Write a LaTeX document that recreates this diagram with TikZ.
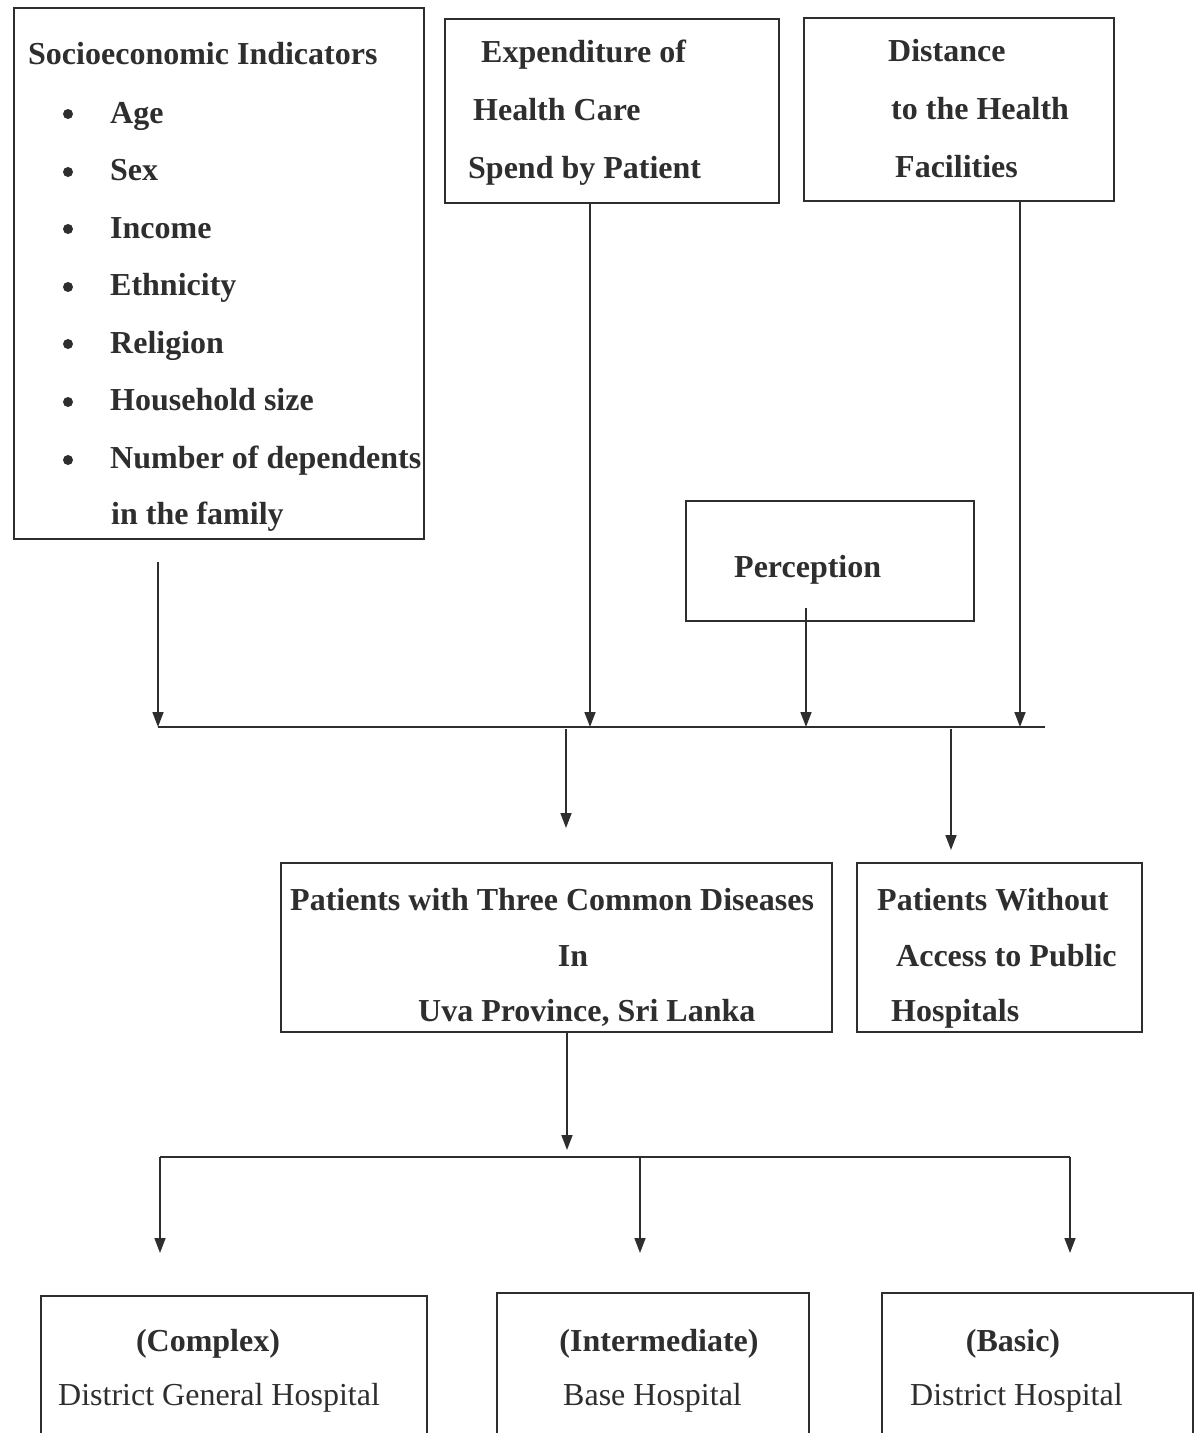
\documentclass[tikz,border=0pt]{standalone}
\usepackage{fontspec}
\setmainfont{Liberation Serif}
\usetikzlibrary{arrows.meta}
\definecolor{ink}{HTML}{2E2E2E}
\begin{document}
\begin{tikzpicture}[x=1pt,y=-1pt,
  box/.style={draw=ink, line width=1.6pt, rectangle, inner sep=0pt, anchor=north west},
  lab/.style={inner sep=0pt, anchor=base west, text=ink, font=\fontsize{32}{38}\selectfont\bfseries},
  labc/.style={lab, anchor=base},
  reg/.style={lab, font=\fontsize{32}{38}\selectfont},
  bul/.style={circle, fill=ink, inner sep=0pt, minimum size=10pt},
  conn/.style={draw=ink, line width=1.6pt},
  arr/.style={conn, -{Triangle[length=15pt,width=11pt]}}]
\useasboundingbox (0,0) rectangle (1200,1433);
\clip (0,0) rectangle (1200,1433);
% boxes
\node[box, minimum width=410pt, minimum height=531pt] (socio) at (13,7) {};
\node[box, minimum width=334pt, minimum height=184pt] (exp) at (444,18) {};
\node[box, minimum width=310pt, minimum height=183pt] (dist) at (803,17) {};
\node[box, minimum width=288pt, minimum height=120pt] (perc) at (685,500) {};
\node[box, minimum width=551pt, minimum height=169pt] (pat) at (280,862) {};
\node[box, minimum width=285pt, minimum height=169pt] (without) at (856,862) {};
\node[box, minimum width=386pt, minimum height=170pt] (cx) at (40,1295) {};
\node[box, minimum width=312pt, minimum height=173pt] (im) at (496,1292) {};
\node[box, minimum width=311pt, minimum height=173pt] (bs) at (881,1292) {};
% socio text
\node[lab] (s0) at (28,64) {Socioeconomic Indicators};
\node[bul] (u1) at (68,114) {};
\node[lab] (s1t) at (110,123) {Age};
\node[bul] (u2) at (68,172) {};
\node[lab] (s2t) at (110,180) {Sex};
\node[bul] (u3) at (68,229) {};
\node[lab] (s3t) at (110,238) {Income};
\node[bul] (u4) at (68,287) {};
\node[lab] (s4t) at (110,295) {Ethnicity};
\node[bul] (u5) at (68,344) {};
\node[lab] (s5t) at (110,353) {Religion};
\node[bul] (u6) at (68,402) {};
\node[lab] (s6t) at (110,410) {Household size};
\node[bul] (u7) at (68,460) {};
\node[lab] (s7t) at (110,468) {Number of dependents};
\node[lab] (s8t) at (111,524) {in the family};
% expenditure
\node[lab] (e1t) at (481,62) {Expenditure of};
\node[lab] (e2t) at (473,120) {Health Care};
\node[lab] (e3t) at (468,178) {Spend by Patient};
% distance
\node[lab] (d1t) at (888,61) {Distance};
\node[lab] (d2t) at (891,119) {to the Health};
\node[lab] (d3t) at (895,177) {Facilities};
% perception
\node[lab] (p1t) at (734,577) {Perception};
% patients
\node[lab] (q1t) at (290,910) {Patients with Three Common Diseases};
\node[labc] (q2t) at (573,966) {In};
\node[lab] (q3t) at (418,1021) {Uva Province, Sri Lanka};
\node[lab] (w1t) at (877,910) {Patients Without};
\node[lab] (w2t) at (896,966) {Access to Public};
\node[lab] (w3t) at (891,1021) {Hospitals};
% bottom
\node[labc] (c1t) at (208,1351) {(Complex)};
\node[reg] (c2t) at (58,1405) {District General Hospital};
\node[labc] (i1t) at (659,1351) {(Intermediate)};
\node[reg] (i2t) at (563,1405) {Base Hospital};
\node[labc] (b1t) at (1013,1351) {(Basic)};
\node[reg] (b2t) at (910,1405) {District Hospital};
% connectors
\coordinate (busL) at (158,727);
\coordinate (busR) at (1045,727);
\draw[conn] (busL) -- (busR);
\coordinate (sa) at (158,562);
\draw[arr] (sa) -- (busL);
\coordinate (ea) at (590,202);
\draw[arr] (ea) -- (ea |- busL);
\coordinate (pa) at (806,608);
\draw[arr] (pa) -- (pa |- busL);
\coordinate (da) at (1020,200);
\draw[arr] (da) -- (da |- busL);
\coordinate (ba) at (566,729);
\coordinate (bae) at (566,828);
\draw[arr] (ba) -- (bae);
\coordinate (bb) at (951,729);
\coordinate (bbe) at (951,850);
\draw[arr] (bb) -- (bbe);
\coordinate (qa) at (567,1031);
\coordinate (qae) at (567,1150);
\draw[arr] (qa) -- (qae);
\coordinate (brL) at (160,1157);
\coordinate (brM) at (640,1157);
\coordinate (brR) at (1070,1157);
\draw[conn] (brL) -- (brR);
\coordinate (brLe) at (160,1253);
\coordinate (brMe) at (640,1253);
\coordinate (brRe) at (1070,1253);
\draw[arr] (brL) -- (brLe);
\draw[arr] (brM) -- (brMe);
\draw[arr] (brR) -- (brRe);
\end{tikzpicture}
\end{document}
